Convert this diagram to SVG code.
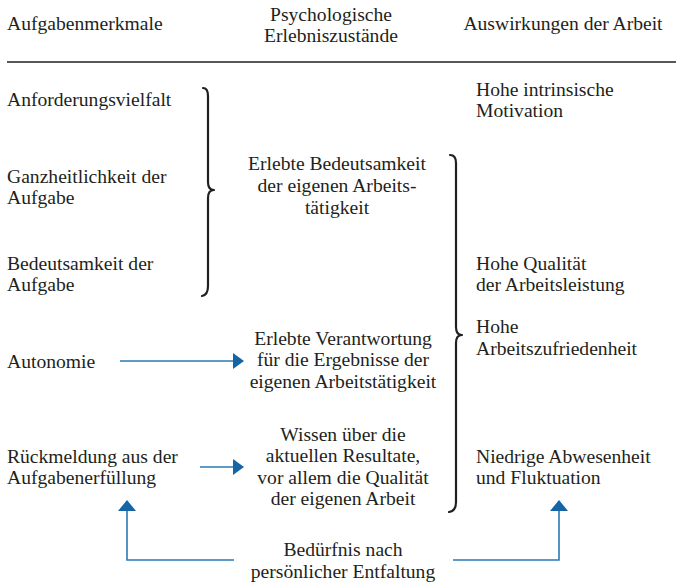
<svg xmlns="http://www.w3.org/2000/svg" width="676" height="584" viewBox="0 0 676 584">
<style>
text{font-family:"Liberation Serif","DejaVu Serif",serif;font-size:19.6px;fill:#231f20}
.c{text-anchor:middle}
.br{fill:none;stroke:#231f20;stroke-width:2.2;stroke-linecap:round;stroke-linejoin:round}
.ar{fill:none;stroke:#2a7ab5;stroke-width:1.6}
.ah{fill:#1565a6}
</style>
<rect width="676" height="584" fill="#fff"/>
<g id="header">
<text x="7" y="30">Aufgabenmerkmale</text>
<text class="c" x="331" y="21">Psychologische</text>
<text class="c" x="331" y="42">Erlebniszustände</text>
<text class="c" x="563" y="30">Auswirkungen der Arbeit</text>
<line x1="7" y1="62" x2="676" y2="62" stroke="#231f20" stroke-width="1.5"/>
</g>
<g id="n_anforderung"><text x="7" y="106">Anforderungsvielfalt</text></g>
<g id="n_ganzheit"><text x="7" y="183">Ganzheitlichkeit der</text><text x="7" y="204">Aufgabe</text></g>
<g id="n_bedeutsamkeit"><text x="7" y="270">Bedeutsamkeit der</text><text x="7" y="291">Aufgabe</text></g>
<g id="n_autonomie"><text x="7" y="368">Autonomie</text></g>
<g id="n_rueckmeldung"><text x="7" y="463">Rückmeldung aus der</text><text x="7" y="484">Aufgabenerfüllung</text></g>
<g id="n_erlebte_bedeutsamkeit"><text class="c" x="337" y="170">Erlebte Bedeutsamkeit</text><text class="c" x="337" y="192">der eigenen Arbeits-</text><text class="c" x="337" y="214">tätigkeit</text></g>
<g id="n_erlebte_verantwortung"><text class="c" x="343" y="345">Erlebte Verantwortung</text><text class="c" x="343" y="366">für die Ergebnisse der</text><text class="c" x="343" y="388">eigenen Arbeitstätigkeit</text></g>
<g id="n_wissen"><text class="c" x="343" y="441">Wissen über die</text><text class="c" x="343" y="462">aktuellen Resultate,</text><text class="c" x="343" y="484">vor allem die Qualität</text><text class="c" x="343" y="505">der eigenen Arbeit</text></g>
<g id="n_beduerfnis"><text class="c" x="343" y="556">Bedürfnis nach</text><text class="c" x="343" y="578">persönlicher Entfaltung</text></g>
<g id="n_motivation"><text x="476" y="96">Hohe intrinsische</text><text x="476" y="117">Motivation</text></g>
<g id="n_qualitaet"><text x="476" y="270">Hohe Qualität</text><text x="476" y="291">der Arbeitsleistung</text></g>
<g id="n_zufriedenheit"><text x="476" y="333">Hohe</text><text x="476" y="355">Arbeitszufriedenheit</text></g>
<g id="n_abwesenheit"><text x="476" y="463">Niedrige Abwesenheit</text><text x="476" y="484">und Fluktuation</text></g>
<g id="connectors">
<path class="br" d="M203,88 Q208,88 208,96 L208,182 Q208,190 214,190 Q208,190 208,198 L208,286 Q208,295 202,296"/>
<path class="br" d="M450,155 Q456,155 456,163 L456,327 Q456,335 462,335 Q456,335 456,343 L456,502 Q456,511 449,512"/>
<line class="ar" x1="120" y1="361" x2="234" y2="361"/>
<polygon class="ah" points="233,353 244,361 233,369"/>
<line class="ar" x1="200" y1="467" x2="234" y2="467"/>
<polygon class="ah" points="233,459 244,467 233,475"/>
<polyline class="ar" points="234,560 127,560 127,510"/>
<polygon class="ah" points="118,511 127,500 136,511"/>
<polyline class="ar" points="453,560 559,560 559,510"/>
<polygon class="ah" points="550,511 559,500 568,511"/>
</g>
</svg>
